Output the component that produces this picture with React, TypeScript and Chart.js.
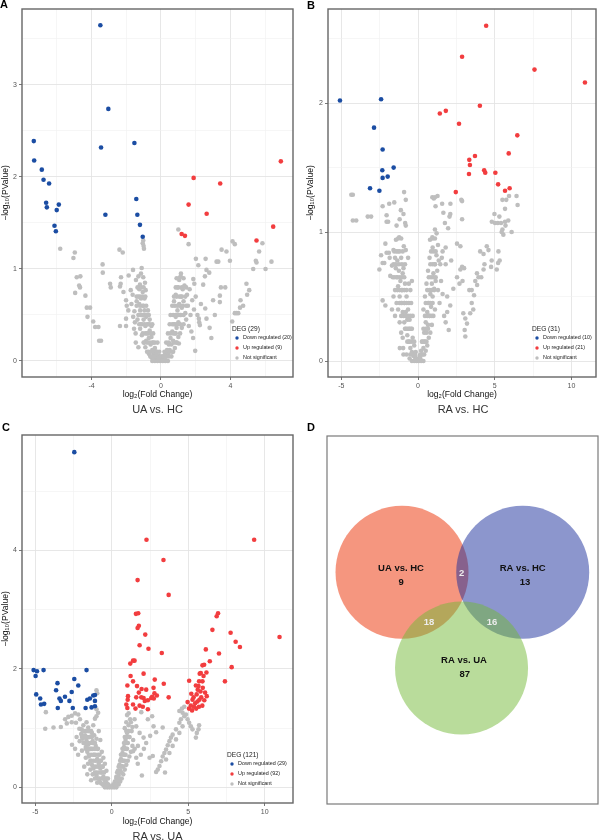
import React, { useEffect, useRef } from 'react';
import { Chart, registerables } from 'chart.js';

Chart.register(...registerables);

const FONT = '"Liberation Sans", Arial, Helvetica, sans-serif';
Chart.defaults.font.family = FONT;

type Pt = [number, number];

// ---------------- Panel A : UA vs. HC ----------------
const A_DOWN: Pt[] = [
  [-3.49, 3.65], [-3.03, 2.74], [-3.45, 2.32], [-1.53, 2.37], [-7.32, 2.39], [-7.3, 2.18], [-6.86, 2.08],
  [-6.76, 1.97], [-6.44, 1.93], [-1.42, 1.76], [-6.61, 1.72], [-6.57, 1.67], [-5.88, 1.7], [-6.0, 1.64],
  [-6.13, 1.47], [-6.05, 1.41], [-3.2, 1.59], [-1.36, 1.59], [-1.21, 1.48], [-1.05, 1.35],
];
const A_UP: Pt[] = [
  [1.88, 1.99], [3.41, 1.93], [6.9, 2.17], [1.59, 1.7], [2.63, 1.6], [6.46, 1.46], [1.19, 1.38], [1.38, 1.36], [5.5, 1.31],
];
const A_NS: Pt[] = [
  [-5.8, 1.22], [-4.96, 1.18], [-5.04, 1.12], [-4.85, 0.91], [-4.64, 0.92], [-4.94, 0.74], [-4.71, 0.82], [-4.66, 0.8],
  [-4.35, 0.71], [-4.27, 0.58], [-4.08, 0.58], [-4.23, 0.48], [-3.9, 0.43], [-3.79, 0.37], [-3.6, 0.37], [-3.56, 0.22],
  [-3.45, 0.22], [-3.36, 1.05], [-3.35, 0.96], [-2.93, 0.84], [-2.89, 0.8], [-2.39, 1.21], [-2.2, 1.18], [-2.3, 0.91],
  [-2.36, 0.81], [-2.32, 0.84], [-2.16, 0.75], [-2.01, 0.66], [-1.97, 0.6], [-2.36, 0.38], [-2.01, 0.38], [-2.01, 0.46],
  [-1.88, 0.55], [-1.61, 0.99], [-1.86, 0.93], [-1.44, 0.88], [-1.74, 0.77], [-1.63, 0.72], [-1.53, 0.54], [-1.02, 1.31],
  [-1.0, 1.25], [-1.05, 1.28], [-0.98, 1.22], [-1.11, 1.01], [-1.02, 0.91], [-0.88, 0.77], [-1.21, 0.83], [-1.46, 0.3],
  [-1.3, 0.15], [-1.5, 0.42],
  [-1.3, 0.7], [-1.25, 0.62], [-1.2, 0.55], [-1.15, 0.68], [-1.1, 0.5], [-1.05, 0.6], [-1.0, 0.45], [-0.95, 0.55],
  [-0.9, 0.38], [-0.85, 0.48], [-0.8, 0.3], [-0.75, 0.4], [-0.7, 0.25], [-0.65, 0.33], [-0.6, 0.18], [-0.55, 0.26],
  [-0.5, 0.12], [-0.45, 0.2], [-0.4, 0.08], [-0.35, 0.14], [-0.3, 0.05], [-0.25, 0.1], [-0.2, 0.03], [-0.15, 0.06],
  [-0.1, 0.02], [-0.05, 0.01], [-1.35, 0.45], [-1.2, 0.35], [-1.1, 0.28], [-1.0, 0.2], [-0.9, 0.15], [-0.8, 0.1],
  [-0.7, 0.08], [-0.6, 0.05], [-0.5, 0.03], [-0.4, 0.02], [-0.3, 0.01], [-1.25, 0.78], [-1.05, 0.75], [-0.95, 0.68],
  [-0.92, 0.85], [-1.15, 0.4], [-0.85, 0.22], [-0.75, 0.55], [-0.65, 0.45], [-0.55, 0.38], [-1.4, 0.65], [-1.6, 0.48],
  [-1.7, 0.62], [-1.55, 0.35], [-1.45, 0.2],
  [0.05, 0.01], [0.1, 0.02], [0.15, 0.05], [0.2, 0.03], [0.25, 0.08], [0.3, 0.05], [0.35, 0.12], [0.4, 0.08],
  [0.45, 0.18], [0.5, 0.12], [0.55, 0.25], [0.6, 0.18], [0.65, 0.32], [0.7, 0.22], [0.75, 0.4], [0.8, 0.3],
  [0.85, 0.48], [0.9, 0.36], [0.95, 0.55], [1.0, 0.42], [1.05, 0.62], [1.1, 0.5], [1.15, 0.7], [1.2, 0.58],
  [1.25, 0.78], [1.3, 0.65], [1.35, 0.82], [1.4, 0.52], [1.5, 0.72], [1.55, 0.6], [1.65, 0.78], [1.7, 0.5],
  [1.8, 0.66], [1.9, 0.56], [2.0, 0.7], [0.6, 0.05], [0.7, 0.1], [0.8, 0.14], [0.9, 0.2], [1.0, 0.26],
  [1.1, 0.3], [1.2, 0.36], [1.3, 0.4], [1.45, 0.45], [1.6, 0.38], [1.75, 0.32], [0.95, 0.8], [1.05, 0.88],
  [0.85, 0.72], [1.15, 0.95], [0.75, 0.65], [2.1, 0.5], [2.3, 0.62], [2.2, 0.42], [1.85, 0.25],
  [1.0, 1.43], [1.59, 1.27], [2.15, 1.04], [2.53, 0.92], [2.62, 0.99], [2.78, 0.96], [2.43, 0.83], [1.86, 0.89],
  [1.92, 0.84], [1.13, 0.92], [2.01, 1.11], [2.57, 1.11], [3.2, 1.08], [3.3, 1.08], [3.49, 1.21], [3.77, 1.19],
  [4.12, 1.3], [4.25, 1.27], [3.97, 1.09], [3.45, 0.8], [3.7, 0.8], [3.39, 0.71], [3.39, 0.64], [3.0, 0.66],
  [2.55, 0.57], [2.62, 0.46], [2.18, 0.46], [2.24, 0.39], [1.97, 0.11], [1.03, 0.19], [4.92, 0.84], [5.08, 0.77],
  [4.96, 0.72], [4.58, 0.66], [4.73, 0.6], [4.55, 0.58], [4.25, 0.52], [4.35, 0.52], [4.45, 0.52], [5.31, 1.0],
  [5.46, 1.09], [5.5, 1.07], [5.65, 1.19], [5.84, 1.28], [6.02, 1.0], [6.36, 1.08], [4.1, 0.43], [2.8, 0.36],
  [3.1, 0.5], [2.9, 0.25],
];
// dense core of the "V"
const A_NS_CORE: Pt[] = [
  [-0.5, 0.0], [-0.35, 0.0], [-0.2, 0.0], [-0.05, 0.0], [0.1, 0.0], [0.25, 0.0], [0.4, 0.0],
  [-0.6, 0.05], [-0.45, 0.05], [-0.3, 0.05], [-0.15, 0.05], [0.0, 0.05], [0.15, 0.05], [0.3, 0.05], [0.45, 0.05],
  [-0.7, 0.1], [-0.55, 0.1], [-0.4, 0.1], [-0.25, 0.1], [-0.1, 0.1], [0.2, 0.1], [0.35, 0.1], [0.5, 0.1], [0.65, 0.1],
  [-0.95, 0.2], [-0.8, 0.2], [-0.65, 0.2], [-0.5, 0.2], [-0.35, 0.2], [-0.2, 0.2], [0.3, 0.2], [0.45, 0.2], [0.75, 0.2], [0.9, 0.2],
  [-1.05, 0.3], [-0.9, 0.3], [-0.75, 0.3], [-0.6, 0.3], [-0.45, 0.3], [0.4, 0.3], [0.55, 0.3], [0.7, 0.3], [0.85, 0.3],
  [-1.25, 0.4], [-1.1, 0.4], [-0.95, 0.4], [-0.8, 0.4], [-0.65, 0.4], [-0.5, 0.4], [0.5, 0.4], [0.65, 0.4], [0.8, 0.4], [0.95, 0.4], [1.1, 0.4],
  [-1.3, 0.5], [-1.15, 0.5], [-1.0, 0.5], [-0.85, 0.5], [-0.7, 0.5], [0.55, 0.5], [0.7, 0.5], [0.85, 0.5], [1.0, 0.5], [1.15, 0.5], [1.3, 0.5],
  [-1.4, 0.6], [-1.2, 0.6], [-1.0, 0.6], [-0.85, 0.6], [0.65, 0.6], [0.8, 0.6], [0.95, 0.6], [1.1, 0.6], [1.25, 0.6], [1.45, 0.6],
  [-1.4, 0.7], [-1.2, 0.7], [-1.05, 0.7], [-0.9, 0.7], [0.75, 0.7], [0.9, 0.7], [1.05, 0.7], [1.2, 0.7], [1.4, 0.7],
  [-1.35, 0.8], [-1.15, 0.8], [-1.0, 0.8], [0.85, 0.8], [1.0, 0.8], [1.2, 0.8], [1.45, 0.8],
  [0.9, 0.9], [1.05, 0.9], [1.3, 0.9], [-1.3, 0.92], [-1.15, 0.95],
];
const A_LEGEND_TITLE = 'DEG (29)';
const A_LEGEND_LABELS = ['Down regulated (20)', 'Up regulated (9)', 'Not significant'];
const A_X_TICKS = [-6, -4, -2, 0, 2, 4, 6];
const A_X_LABELS = [-4, 0, 4];
const A_Y_TICKS = [0, 0.5, 1, 1.5, 2, 2.5, 3, 3.5];
const A_Y_LABELS = [0, 1, 2, 3];

// ---------------- Panel B : RA vs. HC ----------------
const B_DOWN: Pt[] = [
  [-5.09, 2.02], [-2.41, 2.03], [-2.87, 1.81], [-2.31, 1.64], [-2.33, 1.48], [-2.31, 1.42], [-1.98, 1.43],
  [-1.59, 1.5], [-3.13, 1.34], [-2.52, 1.32],
];
const B_UP: Pt[] = [
  [4.44, 2.6], [2.87, 2.36], [7.59, 2.26], [10.88, 2.16], [4.03, 1.98], [1.42, 1.92], [1.81, 1.94], [2.67, 1.84],
  [6.47, 1.75], [5.91, 1.61], [3.71, 1.59], [3.34, 1.56], [3.38, 1.52], [4.31, 1.48], [4.38, 1.46], [3.32, 1.45],
  [5.04, 1.46], [5.22, 1.37], [5.97, 1.34], [5.67, 1.32], [2.46, 1.31],
];
const B_NS: Pt[] = [
  [-4.25, 1.29], [-4.35, 1.29], [-4.25, 1.09], [-4.03, 1.09], [-3.28, 1.12], [-3.06, 1.12], [-2.31, 1.2], [-1.88, 1.22],
  [-1.55, 1.23], [-2.05, 1.13], [-2.05, 1.08], [-1.95, 1.08], [-1.12, 1.17], [-0.95, 1.14], [-0.91, 1.31], [-0.8, 1.25],
  [-0.84, 1.07], [-0.8, 1.05], [-1.4, 1.05], [-1.2, 1.1], [-2.13, 0.91], [-2.05, 0.84], [-2.41, 0.82], [-2.52, 0.71],
  [-2.31, 0.76], [-2.2, 0.76], [-1.9, 0.84], [-1.85, 0.8], [-1.44, 0.94], [-1.23, 0.96], [-1.6, 0.86], [-1.7, 0.74],
  [-1.81, 0.66], [-2.31, 0.47], [-2.13, 0.43], [-1.6, 0.5], [-1.5, 0.55], [-0.93, 0.89], [-0.8, 0.86], [-1.19, 0.1],
  [-0.97, 0.1],
  [-1.5, 0.8], [-1.45, 0.72], [-1.4, 0.65], [-1.35, 0.78], [-1.3, 0.58], [-1.25, 0.7], [-1.2, 0.5], [-1.15, 0.62],
  [-1.1, 0.45], [-1.05, 0.55], [-1.0, 0.38], [-0.95, 0.72], [-0.9, 0.3], [-0.85, 0.6], [-0.8, 0.25], [-0.75, 0.5],
  [-0.7, 0.2], [-0.65, 0.4], [-0.6, 0.15], [-0.55, 0.32], [-0.5, 0.1], [-0.45, 0.25], [-0.4, 0.07], [-0.35, 0.18],
  [-0.3, 0.04], [-0.25, 0.12], [-0.2, 0.03], [-0.15, 0.07], [-0.1, 0.02], [-1.3, 0.4], [-1.2, 0.3], [-1.1, 0.22],
  [-1.0, 0.18], [-0.9, 0.45], [-0.8, 0.38], [-0.7, 0.32], [-0.6, 0.25], [-1.4, 0.45], [-1.5, 0.35], [-1.3, 0.85],
  [-1.1, 0.8], [-1.0, 0.68], [-0.85, 0.75], [-1.65, 0.65], [-1.7, 0.4], [-0.95, 0.05], [-0.75, 0.05], [-0.55, 0.02],
  [-0.45, 0.45], [-0.35, 0.35], [-0.6, 0.6], [-0.5, 0.55], [-0.65, 0.8], [-0.4, 0.62],
  [0.05, 0.01], [0.1, 0.04], [0.15, 0.02], [0.2, 0.08], [0.25, 0.05], [0.3, 0.15], [0.35, 0.1], [0.4, 0.22],
  [0.45, 0.15], [0.5, 0.3], [0.55, 0.22], [0.6, 0.38], [0.65, 0.28], [0.7, 0.45], [0.75, 0.35], [0.8, 0.52],
  [0.85, 0.42], [0.9, 0.6], [0.95, 0.5], [1.0, 0.68], [1.05, 0.56], [1.1, 0.75], [1.15, 0.62], [1.2, 0.82],
  [1.25, 0.7], [1.3, 0.55], [1.35, 0.78], [1.4, 0.45], [1.5, 0.62], [1.6, 0.52], [0.4, 0.05], [0.5, 0.08],
  [0.6, 0.12], [0.7, 0.18], [0.8, 0.22], [0.9, 0.28], [1.0, 0.35], [1.1, 0.4], [0.95, 0.88], [0.78, 0.94],
  [0.93, 0.96], [1.1, 1.02], [1.21, 0.99], [1.3, 0.9], [1.75, 1.07], [1.96, 1.03], [1.6, 0.85], [1.8, 0.75],
  [1.9, 0.5], [1.7, 0.35], [0.55, 0.6], [0.65, 0.7], [0.75, 0.8], [0.45, 0.5], [0.35, 0.4], [0.93, 1.27],
  [1.03, 1.26], [1.27, 1.28], [1.1, 1.27], [1.14, 1.2], [1.57, 1.22], [2.11, 1.22], [2.87, 1.24], [2.82, 1.25],
  [2.1, 1.14], [2.05, 1.12], [2.87, 1.1], [1.65, 1.15],
  [2.54, 0.91], [2.76, 0.89], [1.55, 0.8], [1.45, 0.75], [2.16, 0.78], [1.8, 0.88], [2.87, 0.73], [2.76, 0.71],
  [2.54, 0.65], [2.3, 0.56], [3.0, 0.72], [2.7, 0.6], [2.9, 0.62], [3.34, 0.55], [3.84, 0.68], [3.94, 0.65],
  [4.05, 0.85], [4.27, 0.83], [4.48, 0.89], [4.59, 0.86], [4.33, 0.75], [4.27, 0.71], [4.12, 0.65], [4.76, 0.73],
  [4.8, 0.78], [5.24, 0.85], [5.32, 0.78], [5.22, 0.76], [5.13, 0.71], [3.73, 0.62], [3.85, 0.59], [3.5, 0.55],
  [3.65, 0.51], [3.5, 0.45], [3.6, 0.4], [3.4, 0.37], [3.08, 0.33], [3.19, 0.29], [3.04, 0.24], [3.08, 0.19],
  [2.0, 0.24], [1.8, 0.3], [1.9, 0.38], [2.1, 0.43], [2.95, 0.37], [4.98, 1.14], [5.02, 1.07], [4.81, 1.08],
  [5.2, 1.07], [5.41, 1.07], [5.67, 1.08], [5.88, 1.09], [5.5, 1.02], [5.56, 0.98], [5.45, 1.0], [5.7, 1.05],
  [6.1, 1.0], [5.93, 1.28], [6.42, 1.28], [6.49, 1.21], [5.75, 1.25], [5.67, 1.18], [5.3, 1.12], [5.5, 1.25],
];
const B_NS_CORE: Pt[] = [
  [-0.4, 0.0], [-0.25, 0.0], [-0.1, 0.0], [0.05, 0.0], [0.2, 0.0], [0.35, 0.0],
  [-0.5, 0.05], [-0.35, 0.05], [-0.2, 0.05], [0.15, 0.05], [0.3, 0.05],
  [-0.7, 0.15], [-0.55, 0.15], [-0.4, 0.15], [-0.25, 0.15], [0.25, 0.15], [0.4, 0.15], [0.55, 0.15],
  [-0.85, 0.25], [-0.7, 0.25], [-0.55, 0.25], [-0.4, 0.25], [0.35, 0.25], [0.5, 0.25], [0.65, 0.25],
  [-1.1, 0.35], [-0.95, 0.35], [-0.8, 0.35], [-0.65, 0.35], [-0.5, 0.35], [0.45, 0.35], [0.6, 0.35], [0.75, 0.35], [0.9, 0.35],
  [-1.2, 0.45], [-1.05, 0.45], [-0.9, 0.45], [-0.75, 0.45], [-0.6, 0.45], [0.5, 0.45], [0.65, 0.45], [0.8, 0.45], [0.95, 0.45],
  [-1.35, 0.55], [-1.2, 0.55], [-1.05, 0.55], [-0.9, 0.55], [-0.75, 0.55], [0.6, 0.55], [0.75, 0.55], [0.9, 0.55], [1.05, 0.55],
  [-1.55, 0.65], [-1.35, 0.65], [-1.2, 0.65], [-1.05, 0.65], [-0.9, 0.65], [0.7, 0.65], [0.85, 0.65], [1.0, 0.65], [1.15, 0.65],
  [-1.6, 0.75], [-1.45, 0.75], [-1.25, 0.75], [-1.05, 0.75], [0.8, 0.75], [0.95, 0.75], [1.1, 0.75],
  [-1.55, 0.85], [-1.4, 0.85], [-1.2, 0.85], [-1.0, 0.85], [0.85, 0.85], [1.0, 0.85], [1.15, 0.85],
  [-1.3, 0.95], [-1.1, 0.95], [0.95, 0.95], [1.1, 0.95],
];
const B_LEGEND_TITLE = 'DEG (31)';
const B_LEGEND_LABELS = ['Down regulated (10)', 'Up regulated (21)', 'Not significant'];
const B_X_TICKS = [-5, -2.5, 0, 2.5, 5, 7.5, 10];
const B_X_LABELS = [-5, 0, 5, 10];
const B_Y_TICKS = [0, 0.5, 1, 1.5, 2, 2.5];
const B_Y_LABELS = [0, 1, 2];

// ---------------- Panel C : RA vs. UA ----------------
const C_DOWN: Pt[] = [
  [-2.45, 5.66], [-5.11, 1.98], [-4.89, 1.96], [-4.98, 1.88], [-4.46, 1.98], [-1.65, 1.98], [-4.94, 1.57],
  [-4.68, 1.5], [-4.63, 1.4], [-4.42, 1.41], [-3.55, 1.76], [-3.64, 1.64], [-3.42, 1.5], [-3.33, 1.46],
  [-3.53, 1.34], [-3.06, 1.53], [-2.77, 1.46], [-2.62, 1.61], [-2.45, 1.83], [-2.19, 1.72], [-2.55, 1.34],
  [-1.6, 1.48], [-1.43, 1.5], [-1.71, 1.34], [-1.32, 1.35], [-1.21, 1.55], [-1.1, 1.56], [-1.1, 1.46], [-1.1, 1.37],
];
const C_UP: Pt[] = [
  [2.27, 4.18], [9.31, 4.18], [3.38, 3.84], [1.69, 3.5], [3.72, 3.25], [1.58, 2.93], [1.73, 2.94], [6.95, 2.94],
  [6.86, 2.89], [1.77, 2.73], [1.69, 2.69], [6.58, 2.66], [2.19, 2.58], [7.77, 2.61], [10.97, 2.54], [8.1, 2.46],
  [8.38, 2.37], [1.82, 2.4], [2.4, 2.34], [3.27, 2.27], [6.15, 2.33], [7.01, 2.26], [6.41, 2.13], [6.04, 2.07],
  [5.93, 2.06], [1.21, 2.09], [1.39, 2.14], [1.49, 2.14], [7.84, 2.03], [6.19, 1.94], [5.82, 1.93], [2.08, 1.92],
  [1.23, 1.88], [1.39, 1.79], [2.81, 1.82], [3.4, 1.75], [1.02, 1.72], [5.06, 1.8], [5.71, 1.79], [5.93, 1.79],
  [6.0, 1.88], [7.4, 1.79], [1.65, 1.71], [2.73, 1.68], [1.95, 1.66], [2.25, 1.65], [1.77, 1.6], [5.67, 1.71],
  [2.79, 1.59], [1.06, 1.54], [1.04, 1.48], [1.6, 1.52], [1.93, 1.52], [2.08, 1.51], [2.16, 1.46], [2.58, 1.51],
  [2.64, 1.53], [2.75, 1.5], [3.72, 1.52], [2.36, 1.47], [1.39, 1.4], [1.02, 1.34], [0.95, 1.4], [1.82, 1.38],
  [2.03, 1.36], [2.36, 1.32], [4.96, 1.44], [5.28, 1.48], [5.17, 1.38], [6.21, 1.54], [5.35, 1.52], [5.45, 1.42],
  [5.55, 1.57], [5.6, 1.45], [5.73, 1.48], [5.85, 1.52], [5.62, 1.65], [5.8, 1.62], [5.52, 1.33], [5.38, 1.36],
  [5.7, 1.36], [5.92, 1.38], [5.05, 1.33], [5.25, 1.3], [6.05, 1.47], [5.95, 1.68], [5.75, 1.92], [5.5, 1.72],
  [6.1, 1.6], [5.2, 1.58], [2.95, 1.55], [1.55, 1.33],
];
const C_NS: Pt[] = [
  [-4.31, 1.27], [-4.35, 0.99], [-3.81, 1.01], [-3.33, 1.02], [-3.05, 1.15], [-2.84, 1.19], [-2.62, 1.21], [-2.4, 1.25],
  [-2.19, 1.23], [-2.08, 1.15], [-2.94, 1.08], [-2.62, 1.1], [-2.34, 1.09], [-2.12, 0.99], [-1.97, 0.98], [-1.86, 1.05],
  [-1.65, 1.1], [-1.54, 1.01], [-1.43, 0.95], [-1.21, 1.05], [-1.1, 1.16], [-1.0, 1.2], [-0.89, 1.26], [-1.0, 1.32],
  [-1.0, 1.64], [-0.95, 1.59],
  [-2.0, 0.9], [-1.9, 0.82], [-1.85, 0.95], [-1.8, 0.75], [-1.75, 0.88], [-1.7, 0.68], [-1.65, 0.8], [-1.6, 0.6],
  [-1.55, 0.72], [-1.5, 0.52], [-1.45, 0.85], [-1.4, 0.45], [-1.35, 0.65], [-1.3, 0.38], [-1.25, 0.78], [-1.2, 0.32],
  [-1.15, 0.55], [-1.1, 0.25], [-1.05, 0.7], [-1.0, 0.2], [-0.95, 0.48], [-0.9, 0.15], [-0.85, 0.4], [-0.8, 0.1],
  [-0.75, 0.32], [-0.7, 0.07], [-0.65, 0.25], [-0.6, 0.05], [-0.55, 0.18], [-0.5, 0.03], [-0.45, 0.12], [-0.4, 0.02],
  [-0.35, 0.08], [-0.3, 0.01], [-0.2, 0.04], [-0.1, 0.01], [-2.1, 0.78], [-1.95, 0.62], [-1.7, 0.5], [-1.55, 0.4],
  [-1.4, 0.3], [-1.25, 0.22], [-1.1, 0.15], [-0.95, 0.08], [-1.3, 0.92], [-1.15, 0.88], [-1.0, 0.82], [-0.9, 0.65],
  [-0.8, 0.55], [-0.7, 0.45], [-0.6, 0.35], [-0.5, 0.25], [-2.2, 0.55], [-1.8, 0.35], [-1.6, 0.22], [-1.35, 0.12],
  [-0.85, 0.95], [-0.75, 0.8], [-0.65, 0.6], [-0.55, 0.5], [-0.45, 0.4], [-0.35, 0.28], [-0.25, 0.15], [-2.4, 0.65],
  [-2.3, 0.85], [-2.6, 0.72],
  [0.05, 0.02], [0.1, 0.05], [0.15, 0.03], [0.2, 0.1], [0.25, 0.06], [0.3, 0.18], [0.35, 0.12], [0.4, 0.28],
  [0.45, 0.2], [0.5, 0.38], [0.55, 0.28], [0.6, 0.48], [0.65, 0.36], [0.7, 0.58], [0.75, 0.45], [0.8, 0.68],
  [0.85, 0.55], [0.9, 0.8], [0.95, 0.65], [1.0, 0.92], [1.05, 0.75], [1.1, 1.05], [1.15, 0.85], [1.2, 1.15],
  [1.0, 1.22], [0.95, 1.1], [0.85, 1.0], [1.3, 0.95], [1.4, 0.8], [1.5, 0.65], [1.6, 0.5], [1.7, 0.4],
  [0.45, 0.05], [0.55, 0.1], [0.65, 0.15], [0.75, 0.22], [0.85, 0.3], [0.95, 0.38], [1.05, 0.45], [1.15, 0.52],
  [1.25, 0.6], [1.35, 0.7], [1.9, 0.55], [2.1, 0.65], [1.25, 1.1], [1.35, 1.02], [1.1, 1.25],
  [1.93, 1.27], [2.64, 1.2], [2.36, 1.15], [2.73, 1.03], [2.9, 0.93], [3.33, 1.01], [2.51, 0.87], [2.68, 0.53],
  [2.47, 0.5], [1.97, 0.2], [3.48, 0.25], [1.49, 1.15], [1.6, 1.03], [1.82, 0.92], [2.08, 0.84], [2.25, 0.75],
  [1.71, 0.7], [1.39, 0.61],
  [4.63, 1.26], [4.74, 1.2], [4.52, 1.15], [4.42, 1.09], [4.2, 0.98], [3.98, 0.89], [3.87, 0.84], [3.77, 0.78],
  [3.66, 0.71], [3.55, 0.64], [3.44, 0.58], [3.33, 0.52], [3.23, 0.44], [3.12, 0.36], [3.01, 0.3], [2.9, 0.26],
  [5.17, 1.03], [5.28, 0.98], [5.71, 1.05], [5.56, 0.92], [5.67, 0.98], [5.5, 0.84], [4.85, 1.23], [4.96, 1.15],
  [5.06, 1.09], [4.63, 1.03], [4.42, 0.92], [4.2, 0.81], [3.98, 0.7], [3.77, 0.58], [3.55, 0.47], [4.42, 1.29],
  [4.59, 1.33], [4.74, 1.36],
];
const C_NS_CORE: Pt[] = [
  [-0.45, 0.0], [-0.3, 0.0], [-0.15, 0.0], [0.0, 0.0], [0.15, 0.0], [0.3, 0.0],
  [-0.55, 0.05], [-0.4, 0.05], [-0.25, 0.05], [0.2, 0.05], [0.35, 0.05],
  [-0.8, 0.15], [-0.65, 0.15], [-0.5, 0.15], [-0.35, 0.15], [0.3, 0.15], [0.45, 0.15],
  [-1.0, 0.25], [-0.85, 0.25], [-0.7, 0.25], [-0.55, 0.25], [0.35, 0.25], [0.5, 0.25], [0.65, 0.25],
  [-1.2, 0.35], [-1.05, 0.35], [-0.9, 0.35], [-0.75, 0.35], [-0.6, 0.35], [0.45, 0.35], [0.6, 0.35], [0.75, 0.35],
  [-1.35, 0.45], [-1.2, 0.45], [-1.05, 0.45], [-0.9, 0.45], [-0.75, 0.45], [0.55, 0.45], [0.7, 0.45], [0.85, 0.45],
  [-1.5, 0.55], [-1.35, 0.55], [-1.2, 0.55], [-1.05, 0.55], [-0.9, 0.55], [0.6, 0.55], [0.75, 0.55], [0.9, 0.55],
  [-1.7, 0.65], [-1.55, 0.65], [-1.4, 0.65], [-1.25, 0.65], [-1.1, 0.65], [-0.95, 0.65], [0.7, 0.65], [0.85, 0.65], [1.0, 0.65],
  [-1.85, 0.75], [-1.7, 0.75], [-1.55, 0.75], [-1.4, 0.75], [-1.25, 0.75], [-1.1, 0.75], [0.8, 0.75], [0.95, 0.75],
  [-1.95, 0.85], [-1.75, 0.85], [-1.6, 0.85], [-1.45, 0.85], [-1.3, 0.85], [0.85, 0.85], [1.0, 0.85], [1.15, 0.85],
  [-1.9, 0.95], [-1.7, 0.95], [-1.55, 0.95], [-1.35, 0.95], [0.95, 0.95], [1.1, 0.95],
];
const C_LEGEND_TITLE = 'DEG (121)';
const C_LEGEND_LABELS = ['Down regulated (29)', 'Up regulated (92)', 'Not significant'];
const C_X_TICKS = [-5, -2.5, 0, 2.5, 5, 7.5, 10];
const C_X_LABELS = [-5, 0, 5, 10];
const C_Y_TICKS = [0, 1, 2, 3, 4, 5];
const C_Y_LABELS = [0, 2, 4];

// ---------------- Panel D : Venn ----------------
const VENN_SETS = ['UA vs. HC', 'RA vs. HC', 'RA vs. UA'];
const VENN_ONLY = [9, 13, 87];
// overlaps: UA vs. HC ∩ RA vs. HC, UA vs. HC ∩ RA vs. UA, RA vs. HC ∩ RA vs. UA
const VENN_PAIRS = [2, 18, 16];

// layout of the Venn diagram (circle radius = 1 unit)
const VENN_LAYOUT = {
  centers: [[0, 0], [1.815, 0], [0.895, -1.44]],
  nameAt: [[-0.015, 0.053], [1.815, 0.053], [0.932, -1.323]],
  countAt: [[-0.015, -0.158], [1.85, -0.158], [0.943, -1.541]],
  pairAt: [[0.898, -0.023], [0.406, -0.752], [1.353, -0.752]],
  fills: ['rgba(235,45,0,0.5)', 'rgba(25,45,155,0.5)', 'rgba(115,185,55,0.5)'],
  xRange: [-1.128, 2.947],
  yRange: [-3.484, 2.05],
  // canvas is larger than the panel so that the bubble overflow padding is absorbed
  pad: 70,
  canvasW: 411,
  canvasH: 508,
  canvasLeft: 257,
  canvasTop: 366,
};

const BLUE = '#1B4DA3';
const RED = '#F23D3F';
const GREY = '#BEBEBE';

const panelBorder = {
  id: 'panelBorder',
  afterDraw(chart: any, _a: any, opts: any) {
    const { ctx, chartArea } = chart;
    const { left, top, right, bottom } = chartArea;
    ctx.save();
    ctx.strokeStyle = opts.color || '#666';
    ctx.lineWidth = opts.width || 1.5;
    ctx.strokeRect(left, top, right - left, bottom - top);
    ctx.restore();
  },
};

const volcanoLegend = {
  id: 'volcanoLegend',
  afterDraw(chart: any, _a: any, opts: any) {
    const { ctx, chartArea } = chart;
    const x0 = chartArea.right + opts.dx;
    ctx.save();
    ctx.textBaseline = 'middle';
    ctx.textAlign = 'left';
    ctx.fillStyle = '#222';
    ctx.font = `6.6px ${FONT}`;
    ctx.fillText(opts.title, x0, chartArea.bottom - 48);
    chart.data.datasets.forEach((ds: any, i: number) => {
      const y = chartArea.bottom - 39 + i * 10;
      ctx.fillStyle = ds.backgroundColor;
      ctx.beginPath();
      ctx.arc(x0 + 5, y, 1.7, 0, Math.PI * 2);
      ctx.fill();
      ctx.fillStyle = '#222';
      ctx.font = `5.4px ${FONT}`;
      ctx.fillText(ds.label, x0 + 11, y);
    });
    ctx.restore();
  },
};

function axisCfg(ticks: number[], labeled: number[], min: number, max: number, title: string, titlePad: any, fit: (s: any) => void) {
  const isMajor = (c: any) => c.tick && labeled.includes(c.tick.value);
  return {
    type: 'linear',
    min,
    max,
    afterBuildTicks: (s: any) => {
      s.ticks = ticks.map((v) => ({ value: v }));
    },
    afterFit: fit,
    ticks: {
      autoSkip: false,
      maxRotation: 0,
      minRotation: 0,
      padding: 2,
      color: '#555',
      font: { family: FONT, size: 7 },
      callback: (v: number) => (labeled.includes(v) ? String(v) : ''),
    },
    grid: {
      color: (c: any) => (isMajor(c) ? '#E4E4E4' : '#F0F0F0'),
      lineWidth: (c: any) => (isMajor(c) ? 0.9 : 0.6),
      tickColor: (c: any) => (isMajor(c) ? '#555' : 'rgba(0,0,0,0)'),
      tickWidth: 0.8,
      tickLength: 3,
      drawTicks: true,
    },
    border: { display: false },
    title: { display: true, text: title, color: '#111', font: { family: FONT, size: 8.6 }, padding: titlePad },
  };
}

function Volcano(props: any) {
  const ref = useRef<HTMLCanvasElement>(null);
  const s = props.spec;
  useEffect(() => {
    const toXY = (arr: Pt[]) => arr.map(([x, y]) => ({ x, y }));
    const chart = new Chart(ref.current as HTMLCanvasElement, {
      type: 'scatter',
      data: {
        datasets: [
          { label: s.labels[0], data: toXY(s.down), backgroundColor: BLUE, pointRadius: 2.3, pointBorderWidth: 0 },
          { label: s.labels[1], data: toXY(s.up), backgroundColor: RED, pointRadius: 2.3, pointBorderWidth: 0 },
          { label: s.labels[2], data: toXY(s.ns), backgroundColor: GREY, pointRadius: 2.3, pointBorderWidth: 0 },
        ],
      },
      options: {
        responsive: false,
        maintainAspectRatio: false,
        animation: false,
        events: [],
        layout: { padding: s.pad },
        plugins: {
          legend: { display: false },
          tooltip: { enabled: false },
          volcanoLegend: { title: s.legendTitle, dx: s.legendDx },
          panelBorder: { color: '#666', width: 1.4 },
        },
        scales: {
          x: axisCfg(s.xTicks, s.xLabeled, s.xMin, s.xMax, 'log\u2082(Fold Change)', { top: 0, bottom: s.xTitleBottom },
            (sc: any) => { sc.height = s.xAxisHeight; }),
          y: axisCfg(s.yTicks, s.yLabeled, s.yMin, s.yMax, '\u2212log\u2081\u2080(PValue)', { top: s.yTitleTop, bottom: 0 },
            (sc: any) => { sc.width = s.yAxisWidth; }),
        },
      } as any,
      plugins: [volcanoLegend, panelBorder],
    } as any);
    return () => chart.destroy();
  }, []);
  return <canvas ref={ref} width={300} height={420} style={{ position: 'absolute', left: props.left, top: props.top }} />;
}

const vennLabels = {
  id: 'vennLabels',
  afterDatasetsDraw(chart: any) {
    const { ctx, scales } = chart;
    const px = (p: number[]) => [scales.x.getPixelForValue(p[0]), scales.y.getPixelForValue(p[1])];
    ctx.save();
    ctx.textAlign = 'center';
    ctx.textBaseline = 'middle';
    ctx.font = `bold 9.5px ${FONT}`;
    VENN_SETS.forEach((name, i) => {
      ctx.fillStyle = '#111';
      const [nx, ny] = px(VENN_LAYOUT.nameAt[i]);
      ctx.fillText(name, nx, ny);
      const [cx, cy] = px(VENN_LAYOUT.countAt[i]);
      ctx.fillText(String(VENN_ONLY[i]), cx, cy);
    });
    ctx.fillStyle = '#EDEDED';
    VENN_PAIRS.forEach((n, i) => {
      const [x, y] = px(VENN_LAYOUT.pairAt[i]);
      ctx.fillText(String(n), x, y);
    });
    ctx.restore();
  },
};

function Venn() {
  const ref = useRef<HTMLCanvasElement>(null);
  const L = VENN_LAYOUT;
  useEffect(() => {
    // pixels per unit along x = the circle radius (1 unit) in pixels
    const rPx = (L.canvasW - 2 * L.pad) / (L.xRange[1] - L.xRange[0]);
    const chart = new Chart(ref.current as HTMLCanvasElement, {
      type: 'bubble',
      data: {
        datasets: [
          {
            label: 'Venn',
            data: L.centers.map(([x, y]) => ({ x, y, r: rPx })),
            backgroundColor: L.fills,
            borderWidth: 0,
            clip: false,
          },
        ],
      },
      options: {
        responsive: false,
        maintainAspectRatio: false,
        animation: false,
        events: [],
        layout: { padding: L.pad },
        plugins: {
          legend: { display: false },
          tooltip: { enabled: false },
          panelBorder: { color: '#7a7a7a', width: 1.2 },
        },
        scales: {
          x: { type: 'linear', display: false, min: L.xRange[0], max: L.xRange[1] },
          y: { type: 'linear', display: false, min: L.yRange[0], max: L.yRange[1] },
        },
      } as any,
      plugins: [vennLabels, panelBorder],
    } as any);
    return () => chart.destroy();
  }, []);
  return (
    <canvas
      ref={ref}
      width={L.canvasW}
      height={L.canvasH}
      style={{ position: 'absolute', left: L.canvasLeft, top: L.canvasTop }}
    />
  );
}

const SPEC_A = {
  down: A_DOWN, up: A_UP, ns: [...A_NS, ...A_NS_CORE], labels: A_LEGEND_LABELS, legendTitle: A_LEGEND_TITLE,
  xTicks: A_X_TICKS, xLabeled: A_X_LABELS, yTicks: A_Y_TICKS, yLabeled: A_Y_LABELS,
  xMin: -8.0, xMax: 7.6, yMin: -0.174, yMax: 3.826,
  pad: { left: 0, top: 9, right: 7, bottom: 0 }, yAxisWidth: 22, xAxisHeight: 43,
  xTitleBottom: 20.5, yTitleTop: 0, legendDx: -61,
};
const SPEC_B = {
  down: B_DOWN, up: B_UP, ns: [...B_NS, ...B_NS_CORE], labels: B_LEGEND_LABELS, legendTitle: B_LEGEND_TITLE,
  xTicks: B_X_TICKS, xLabeled: B_X_LABELS, yTicks: B_Y_TICKS, yLabeled: B_Y_LABELS,
  xMin: -5.87, xMax: 11.6, yMin: -0.124, yMax: 2.73,
  pad: { left: 0, top: 9, right: 1, bottom: 0 }, yAxisWidth: 28, xAxisHeight: 43,
  xTitleBottom: 20.5, yTitleTop: 5, legendDx: -64,
};
const SPEC_C = {
  down: C_DOWN, up: C_UP, ns: [...C_NS, ...C_NS_CORE], labels: C_LEGEND_LABELS, legendTitle: C_LEGEND_TITLE,
  xTicks: C_X_TICKS, xLabeled: C_X_LABELS, yTicks: C_Y_TICKS, yLabeled: C_Y_LABELS,
  xMin: -5.87, xMax: 11.85, yMin: -0.264, yMax: 5.95,
  pad: { left: 0, top: 15, right: 7, bottom: 0 }, yAxisWidth: 22, xAxisHeight: 37,
  xTitleBottom: 13, yTitleTop: 0, legendDx: -66,
};

function Label(props: any) {
  const { x, y, text, size, bold, color, center } = props;
  return (
    <div
      style={{
        position: 'absolute',
        left: center ? x - 150 : x,
        top: y,
        width: center ? 300 : undefined,
        textAlign: center ? 'center' : 'left',
        fontFamily: FONT,
        fontSize: size,
        lineHeight: `${size}px`,
        fontWeight: bold ? 700 : 400,
        color: color || '#000',
        whiteSpace: 'nowrap',
      }}
    >
      {text}
    </div>
  );
}

export default function App() {
  return (
    <div style={{ position: 'absolute', left: 0, top: 0, width: 600, height: 840, overflow: 'hidden', background: '#fff' }}>
      <Volcano spec={SPEC_A} left={0} top={0} />
      <Volcano spec={SPEC_B} left={300} top={0} />
      <Volcano spec={SPEC_C} left={0} top={420} />
      <Venn />
      <Label x={0} y={-1} text="A" size={11} bold />
      <Label x={307} y={0} text="B" size={11} bold />
      <Label x={2} y={421.5} text="C" size={11} bold />
      <Label x={307} y={421.5} text="D" size={11} bold />
      <Label x={157.5} y={403.5} text="UA vs. HC" size={11} color="#333" center />
      <Label x={463} y={403.5} text="RA vs. HC" size={11} color="#333" center />
      <Label x={157.5} y={830.5} text="RA vs. UA" size={11} color="#333" center />
    </div>
  );
}
